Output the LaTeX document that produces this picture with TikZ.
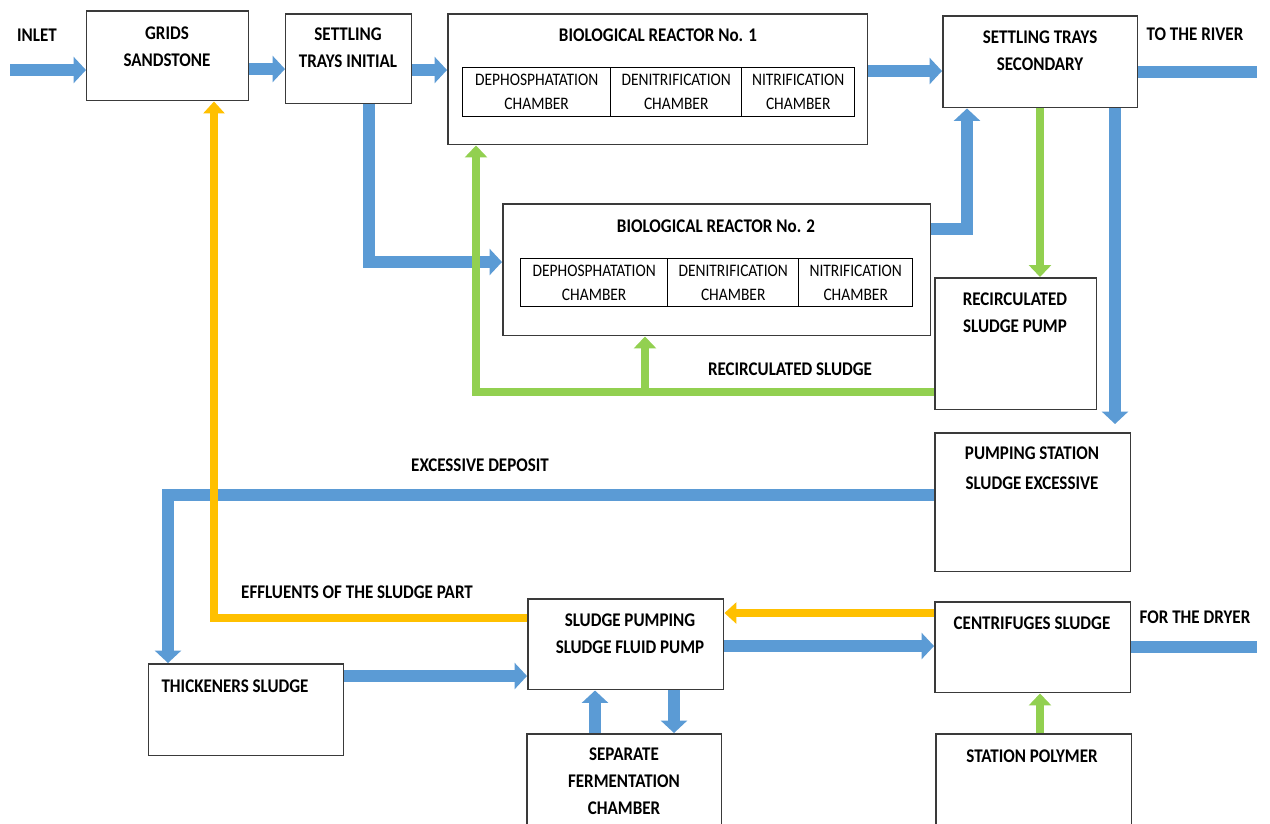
\documentclass[tikz,border=0pt]{standalone}
\usepackage{fontspec}
\setmainfont{Carlito}[FakeStretch=0.88]
\usetikzlibrary{arrows.meta}
\definecolor{fblue}{HTML}{5B9BD5}
\definecolor{fgreen}{HTML}{92D050}
\definecolor{fyellow}{HTML}{FFC000}
\definecolor{edge}{HTML}{3A3A3A}
\tikzset{
  box/.style={draw=edge, line width=0.85pt, fill=white, anchor=north west, inner sep=0pt},
  cell/.style={draw=black, line width=0.8pt, anchor=north west, inner sep=0pt, align=center,
    font=\fontsize{10}{13.5}\selectfont},
  ttl/.style={font=\bfseries\fontsize{11}{15.5}\selectfont, align=center, inner sep=0pt, text=black},
  bflow/.style={draw=fblue, line width=0.23cm, line join=miter, -{Triangle[width=0.52cm,length=0.25cm]}},
  bline/.style={draw=fblue, line width=0.23cm},
  gflow/.style={draw=fgreen, line width=0.16cm, line join=miter, -{Triangle[width=0.44cm,length=0.24cm]}},
  yflow/.style={draw=fyellow, line width=0.17cm, line join=miter, -{Triangle[width=0.42cm,length=0.24cm]}},
}
\begin{document}
\begin{tikzpicture}[x=0.02cm, y=-0.02cm]
\useasboundingbox[fill=white] (0,0) rectangle (1270,823);

% boxes
\node[box, minimum width=3.24cm, minimum height=1.8cm] (grids) at (86,10) {};
\node[box, minimum width=2.52cm, minimum height=1.8cm] (sti) at (285,13) {};
\node[box, minimum width=8.4cm, minimum height=2.62cm] (br1) at (447,13) {};
\node[box, minimum width=3.9cm, minimum height=1.84cm] (sts) at (942,15) {};
\node[box, minimum width=8.56cm, minimum height=2.64cm] (br2) at (502,203) {};
\node[box, minimum width=3.24cm, minimum height=2.64cm] (rsp) at (934,277) {};
\node[box, minimum width=3.92cm, minimum height=2.78cm] (pse) at (934,432) {};
\node[box, minimum width=3.9cm, minimum height=1.84cm] (thk) at (148,663) {};
\node[box, minimum width=3.92cm, minimum height=1.82cm] (spp) at (527,598) {};
\node[box, minimum width=3.9cm, minimum height=2.1cm] (sfc) at (526,733) {};
\node[box, minimum width=3.92cm, minimum height=1.82cm] (cen) at (934,601) {};
\node[box, minimum width=3.92cm, minimum height=2.1cm] (pol) at (935,733) {};

% chamber cells
\node[cell, minimum width=2.96cm, minimum height=0.98cm] (r1a) at (462,67) {DEPHOSPHATATION\\CHAMBER};
\node[cell, minimum width=2.62cm, minimum height=0.98cm] (r1b) at (610,67) {DENITRIFICATION\\CHAMBER};
\node[cell, minimum width=2.26cm, minimum height=0.98cm] (r1c) at (741,67) {NITRIFICATION\\CHAMBER};
\node[cell, minimum width=2.94cm, minimum height=0.96cm] (r2a) at (520,258) {DEPHOSPHATATION\\CHAMBER};
\node[cell, minimum width=2.62cm, minimum height=0.96cm] (r2b) at (667,258) {DENITRIFICATION\\CHAMBER};
\node[cell, minimum width=2.28cm, minimum height=0.96cm] (r2c) at (798,258) {NITRIFICATION\\CHAMBER};

% texts
\node[ttl] (tinlet) at (37,35) {INLET};
\node[ttl] (tgrids) at (167,47) {GRIDS\\SANDSTONE};
\node[ttl] (tsti) at (348,48) {SETTLING\\TRAYS INITIAL};
\node[ttl] (tbr1) at (658,35) {BIOLOGICAL REACTOR No. 1};
\node[ttl] (tsts) at (1040,51) {SETTLING TRAYS\\SECONDARY};
\node[ttl] (triver) at (1195,34) {TO THE RIVER};
\node[ttl] (tbr2) at (716,226) {BIOLOGICAL REACTOR No. 2};
\node[ttl] (trsp) at (1015,313) {RECIRCULATED\\SLUDGE PUMP};
\node[ttl] (trs) at (790,369) {RECIRCULATED SLUDGE};
\node[ttl, font=\bfseries\fontsize{11}{17}\selectfont] (tpse) at (1032,468) {PUMPING STATION\\SLUDGE EXCESSIVE};
\node[ttl] (texd) at (480,465) {EXCESSIVE DEPOSIT};
\node[ttl] (teff) at (357,592) {EFFLUENTS OF THE SLUDGE PART};
\node[ttl] (tspp) at (630,634) {SLUDGE PUMPING\\SLUDGE FLUID PUMP};
\node[ttl] (tcen) at (1032,623) {CENTRIFUGES SLUDGE};
\node[ttl] (tdry) at (1195,617) {FOR THE DRYER};
\node[ttl] (tthk) at (235,686) {THICKENERS SLUDGE};
\node[ttl] (tsfc) at (624,781) {SEPARATE\\FERMENTATION\\CHAMBER};
\node[ttl] (tpol) at (1032,756) {STATION POLYMER};

% blue flows
\coordinate (inlet) at (10,70);
\draw[bflow] (inlet) -- (grids.west |- 0,70);
\draw[bflow] (grids.east |- 0,69) -- (sti.west |- 0,69);
\draw[bflow] (sti.east |- 0,70) -- (br1.west |- 0,70);
\draw[bflow] (br1.east |- 0,71) -- (sts.west |- 0,71);
\coordinate (river) at (1257,72);
\draw[bline] (sts.east |- river) -- (river);
\draw[bflow] (sti.south -| 369,0) |- (br2.west |- 0,262);
\draw[bflow] (br2.east |- 0,229) -| (sts.south -| 967,0);
\coordinate (psin) at (1115,424);
\draw[bflow] (sts.south -| psin) -- (psin);
\draw[bflow] (pse.west |- 0,495) -| (thk.north -| 168,0);
\draw[bflow] (thk.east |- 0,676) -- (spp.west |- 0,676);
\draw[bflow] (spp.east |- 0,646) -- (cen.west |- 0,646);
\coordinate (dryer) at (1257,647);
\draw[bline] (cen.east |- dryer) -- (dryer);
\draw[bflow] (sfc.north -| 595,0) -- (spp.south -| 595,0);
\draw[bflow] (spp.south -| 674,0) -- (sfc.north -| 674,0);

% green flows
\draw[gflow] (sts.south -| 1040,0) -- (rsp.north -| 1040,0);
\coordinate (gj) at (645,392);
\draw[gflow] (rsp.west |- gj) -| (br1.south -| 476,0);
\draw[gflow] (gj) -- (br2.south -| gj);
\draw[gflow] (pol.north -| 1040,0) -- (cen.south -| 1040,0);

% yellow flows
\draw[yflow] (spp.west |- 0,618) -| (grids.south -| 214,0);
\draw[yflow] (cen.west |- 0,613) -- (spp.east |- 0,613);
\end{tikzpicture}
\end{document}
